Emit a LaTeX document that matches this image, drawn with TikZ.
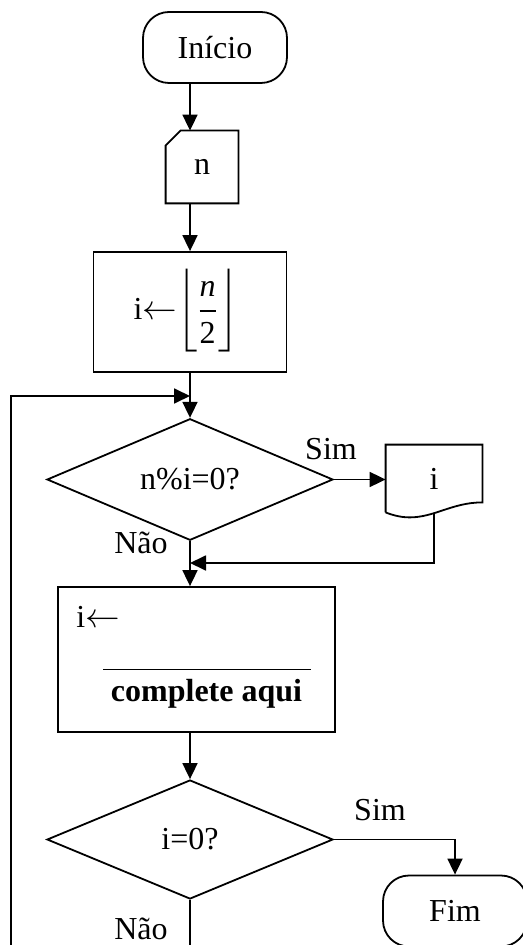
\documentclass[tikz,border=0pt]{standalone}
\usepackage{amsmath}
\usepackage{fontspec}
\setmainfont{Liberation Serif}
\usetikzlibrary{arrows.meta,calc,positioning,shapes.geometric}
\tikzset{
terminal/.style={
  rectangle,
  rounded corners=13pt,
  line width=0.9pt,
  inner sep=0pt,
  minimum width=72pt,
  minimum height=35.5pt,
  draw=black,
  }
}
\tikzset{
processo/.style={
  rectangle,
  line width=0.9pt,
  inner sep=0pt,
  draw=black,
  }
}
\tikzset{
decisao/.style={
  diamond,
  line width=0.9pt,
  inner sep=0pt,
  minimum width=143pt,
  minimum height=59.5pt,
  draw=black,
  }
}
\tikzset{
seta/.style={
  line width=0.9pt,
  -{Triangle[length=8pt,width=7.5pt]}
  }
}
\tikzset{
linha/.style={
  line width=0.9pt,
  }
}

\begin{document}
\begin{tikzpicture}[x=0.5pt,y=-0.5pt,font=\fontsize{16}{19}\selectfont]
    \path[use as bounding box, clip] (0,0) rectangle (523,945);
    \node[terminal] (inicio) at (215,47.5) {Início};
    \node[inner sep=0pt, minimum size=36pt] (entrada) at (202,167) {n};
    \node[processo, minimum width=96.5pt, minimum height=60pt] (atrib) at (190,312) {};
    \node[] (valor) at (186,311) {i$\mathord{\leftarrow}\!\left\lfloor\rule[-16pt]{0pt}{40pt}\dfrac{\textit{n}}{\textup{2}}\right\rfloor$};
    \node[decisao] (decisao1) at (190,479.5) {n\%i=0?};
    \node[inner sep=0pt, minimum width=48pt, minimum height=33.5pt] (saida) at (434,478.5) {i};
    \node[processo, minimum width=138.5pt, minimum height=72.5pt] (atrib2) at (196.5,659.5) {};
    \node[anchor=base] (iseta) at (98,627) {i$\leftarrow$};
    \node[anchor=base, font=\fontsize{16}{19}\selectfont\bfseries] (dica) at (206.5,701) {complete aqui};
    \node[decisao] (decisao2) at (190,839.5) {i=0?};
    \node[terminal] (fim) at (455,911) {Fim};
    \node[] (sim1) at (331,449) {Sim};
    \node[] (nao1) at (141,543) {Não};
    \node[] (sim2) at (380,810) {Sim};
    \node[] (nao2) at (141,929) {Não};
    \coordinate (juncao) at (190,563);
    \coordinate (retorno) at (190,396);
    \coordinate (canto) at (11,985);
    % contornos do cartao e do documento
    \draw[linha] ([yshift=-7.5pt]entrada.north west) -- ([xshift=7.5pt]entrada.north west) -- (entrada.north east) -- (entrada.south east) -- (entrada.south west) -- cycle;
    \draw[linha] (saida.south west) -- (saida.north west) -- (saida.north east) -- ([yshift=5pt]saida.south east)
        .. controls +(-30,0) and +(25,0) .. ([xshift=12pt,yshift=-2.5pt]saida.south west)
        .. controls +(-10,0) and +(5,2) .. (saida.south west);
    \draw[line width=0.5pt] (103,669) -- (311,669);
    \draw[seta] (inicio.south -| atrib.north) -- (entrada.north -| atrib.north);
    \draw[seta] (entrada.south -| atrib.north) -- (atrib.north);
    \draw[seta] (atrib.south) -- (decisao1.north);
    \draw[seta] (decisao1.east) -- (decisao1.east -| saida.west);
    \draw[seta] ([yshift=-1pt]saida.south) |- (juncao);
    \draw[seta] (decisao1.south) -- (decisao1.south |- atrib2.north);
    \draw[seta] (decisao2.north |- atrib2.south) -- (decisao2.north);
    \draw[seta] (decisao2.east) -| (fim.north);
    \draw[seta] (decisao2.south) |- (canto) |- (retorno);
  \end{tikzpicture}
\end{document}
